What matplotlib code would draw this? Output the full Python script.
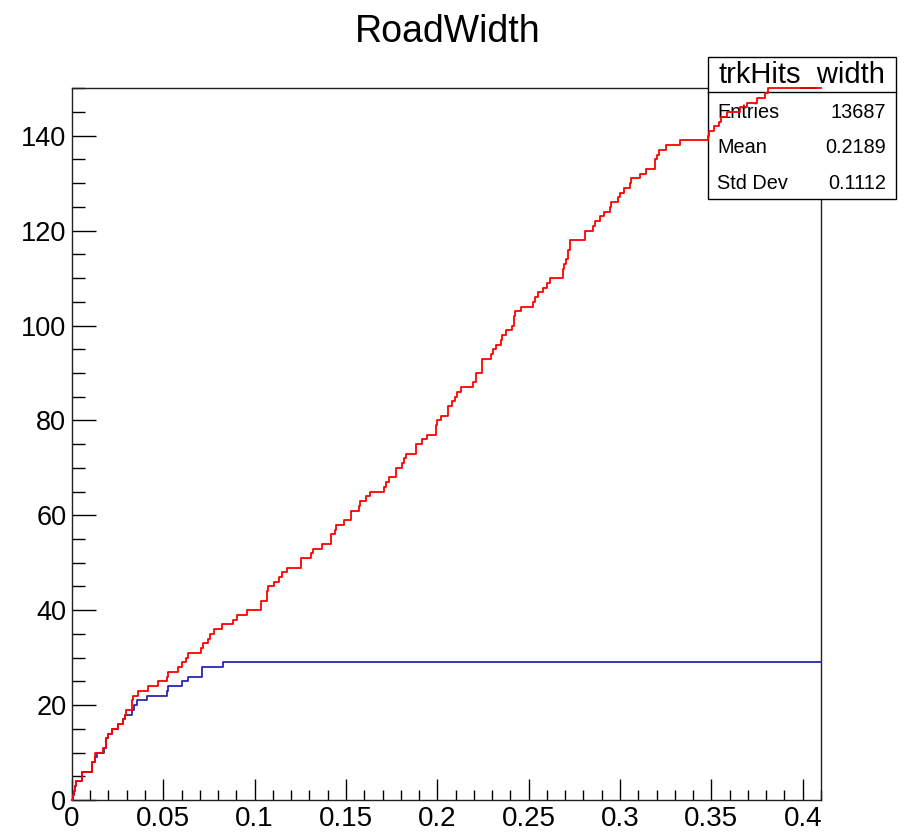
import numpy as np
import matplotlib
matplotlib.use('Agg')
import matplotlib.pyplot as plt
from matplotlib.patches import Rectangle
from matplotlib.ticker import MultipleLocator

plt.rcParams['font.family'] = ['Liberation Sans', 'DejaVu Sans']

# step edges (x where the count changes) and the count after that edge
red_x = [0.0, 0.0005, 0.001, 0.0015, 0.0025, 0.0055, 0.011, 0.0125, 0.0128, 0.017,
         0.0189, 0.0198, 0.022, 0.0252, 0.028, 0.0293, 0.0298, 0.0329, 0.0335, 0.0362,
         0.0417, 0.0472, 0.0519, 0.0528, 0.0583, 0.0601, 0.0625, 0.0638, 0.0707, 0.072,
         0.0745, 0.0756, 0.0778, 0.082, 0.0884, 0.0906, 0.0961, 0.1034, 0.107, 0.1076,
         0.1107, 0.1136, 0.1152, 0.118, 0.1255, 0.1308, 0.1322, 0.1368, 0.1419, 0.1441,
         0.1446, 0.1492, 0.1527, 0.157, 0.1578, 0.1609, 0.1629, 0.171, 0.1718, 0.1738,
         0.1775, 0.1806, 0.1819, 0.1828, 0.1884, 0.1916, 0.1943, 0.1994, 0.2001, 0.202,
         0.2056, 0.208, 0.2098, 0.2107, 0.2129, 0.2195, 0.2211, 0.2244, 0.2295, 0.2304,
         0.2321, 0.2348, 0.2354, 0.2377, 0.2408, 0.2417, 0.2423, 0.2458, 0.2521, 0.2532,
         0.2549, 0.2578, 0.26, 0.2615, 0.2686, 0.2691, 0.2704, 0.2715, 0.2724, 0.281,
         0.2852, 0.2865, 0.2892, 0.2914, 0.2943, 0.2952, 0.2989, 0.3002, 0.3024, 0.3056,
         0.306, 0.3111, 0.3142, 0.3193, 0.3203, 0.3215, 0.3254, 0.3326, 0.348, 0.3487,
         0.3512, 0.354, 0.3555, 0.3586, 0.3659, 0.3695, 0.375, 0.3796, 0.3808, 0.41]
red_y = [0, 1, 2, 3, 4, 6, 8, 9, 10, 11,
         13, 14, 15, 16, 17, 18, 19, 21, 22, 23,
         24, 25, 26, 27, 28, 29, 30, 31, 32, 33,
         34, 35, 36, 37, 38, 39, 40, 42, 44, 45,
         46, 47, 48, 49, 51, 52, 53, 54, 56, 57,
         58, 59, 61, 62, 63, 64, 65, 66, 67, 68,
         70, 71, 72, 73, 75, 76, 77, 79, 80, 81,
         83, 84, 85, 86, 87, 88, 90, 93, 94, 95,
         96, 97, 98, 99, 100, 102, 103, 104, 105, 106,
         107, 108, 109, 110, 112, 113, 114, 116, 118, 120,
         121, 122, 123, 124, 125, 126, 127, 128, 129, 130,
         131, 132, 133, 135, 136, 137, 138, 139, 140, 141,
         142, 143, 144, 145, 146, 147, 148, 149, 150, 150]

blue_x = [0.0, 0.0005, 0.001, 0.0015, 0.0025, 0.0055, 0.011, 0.0125, 0.0135, 0.0175,
          0.0189, 0.0198, 0.022, 0.0252, 0.028, 0.0293, 0.0327, 0.034, 0.0355, 0.0413,
          0.0523, 0.0528, 0.0601, 0.0638, 0.0711, 0.0826, 0.41]
blue_y = [0, 1, 2, 3, 4, 6, 8, 9, 10, 11,
          13, 14, 15, 16, 17, 18, 19, 20, 21, 22,
          23, 24, 25, 26, 28, 29, 29]

stat_names = ['Entries', 'Mean', 'Std Dev']
stat_values = ['13687', '0.2189', '0.1112']

W, H = 907, 834
fig = plt.figure(figsize=(W / 100, H / 100), dpi=100)
ax = fig.add_axes([71.9 / W, 1 - 800 / H, (821 - 71.9) / W, (800 - 88.3) / H])

ax.step(blue_x, blue_y, where='post', color='#2828b0', lw=1.3, zorder=3.5, clip_on=False)
ax.step(red_x, red_y, where='post', color='#ff0000', lw=1.3, zorder=4, clip_on=False)

ax.set_xlim(0, 0.41)
ax.set_ylim(0, 150)
ax.xaxis.set_major_locator(MultipleLocator(0.05))
ax.xaxis.set_minor_locator(MultipleLocator(0.01))
ax.yaxis.set_major_locator(MultipleLocator(20))
ax.yaxis.set_minor_locator(MultipleLocator(5))
ax.set_xticks([0, 0.05, 0.1, 0.15, 0.2, 0.25, 0.3, 0.35, 0.4])
ax.set_xticklabels(['0', '0.05', '0.1', '0.15', '0.2', '0.25', '0.3', '0.35', '0.4'])

ax.tick_params(axis='x', which='major', direction='in', length=15, width=1, labelsize=20, pad=4.5)
ax.tick_params(axis='x', which='minor', direction='in', length=7.2, width=1)
ax.tick_params(axis='y', which='major', direction='in', length=17, width=1, labelsize=19.5, pad=4)
ax.tick_params(axis='y', which='minor', direction='in', length=9.4, width=1)
for s in ax.spines.values():
    s.set_linewidth(1)
    s.set_color('#222222')

fig.text(448 / W, 1 - 41.7 / H, 'RoadWidth', fontsize=27, ha='center', va='baseline')

# stats box (white, covers the frame but the red line goes over it)
bx0, bx1, by0, by1 = 708.3, 896, 57.3, 199
ax.add_patch(Rectangle((bx0 / W, 1 - by1 / H), (bx1 - bx0) / W, (by1 - by0) / H,
                       transform=fig.transFigure, facecolor='white', edgecolor='black',
                       lw=1, zorder=3, clip_on=False))
ax.add_line(plt.Line2D([bx0 / W, bx1 / W], [1 - 92.3 / H, 1 - 92.3 / H],
                       transform=fig.transFigure, color='black', lw=1, zorder=3.1, clip_on=False))
ax.text(802 / W, 1 - 83.3 / H, 'trkHits_width', transform=fig.transFigure, fontsize=21,
        ha='center', va='baseline', zorder=3.2, clip_on=False)
for i, (name, val) in enumerate(zip(stat_names, stat_values)):
    yb = [117.7, 152.7, 189][i]
    ax.text(717.3 / W, 1 - yb / H, name, transform=fig.transFigure, fontsize=14.3,
            ha='left', va='baseline', zorder=3.2)
    ax.text(886 / W, 1 - yb / H, val, transform=fig.transFigure, fontsize=14.3,
            ha='right', va='baseline', zorder=3.2)

fig.savefig('out.png', dpi=100)
